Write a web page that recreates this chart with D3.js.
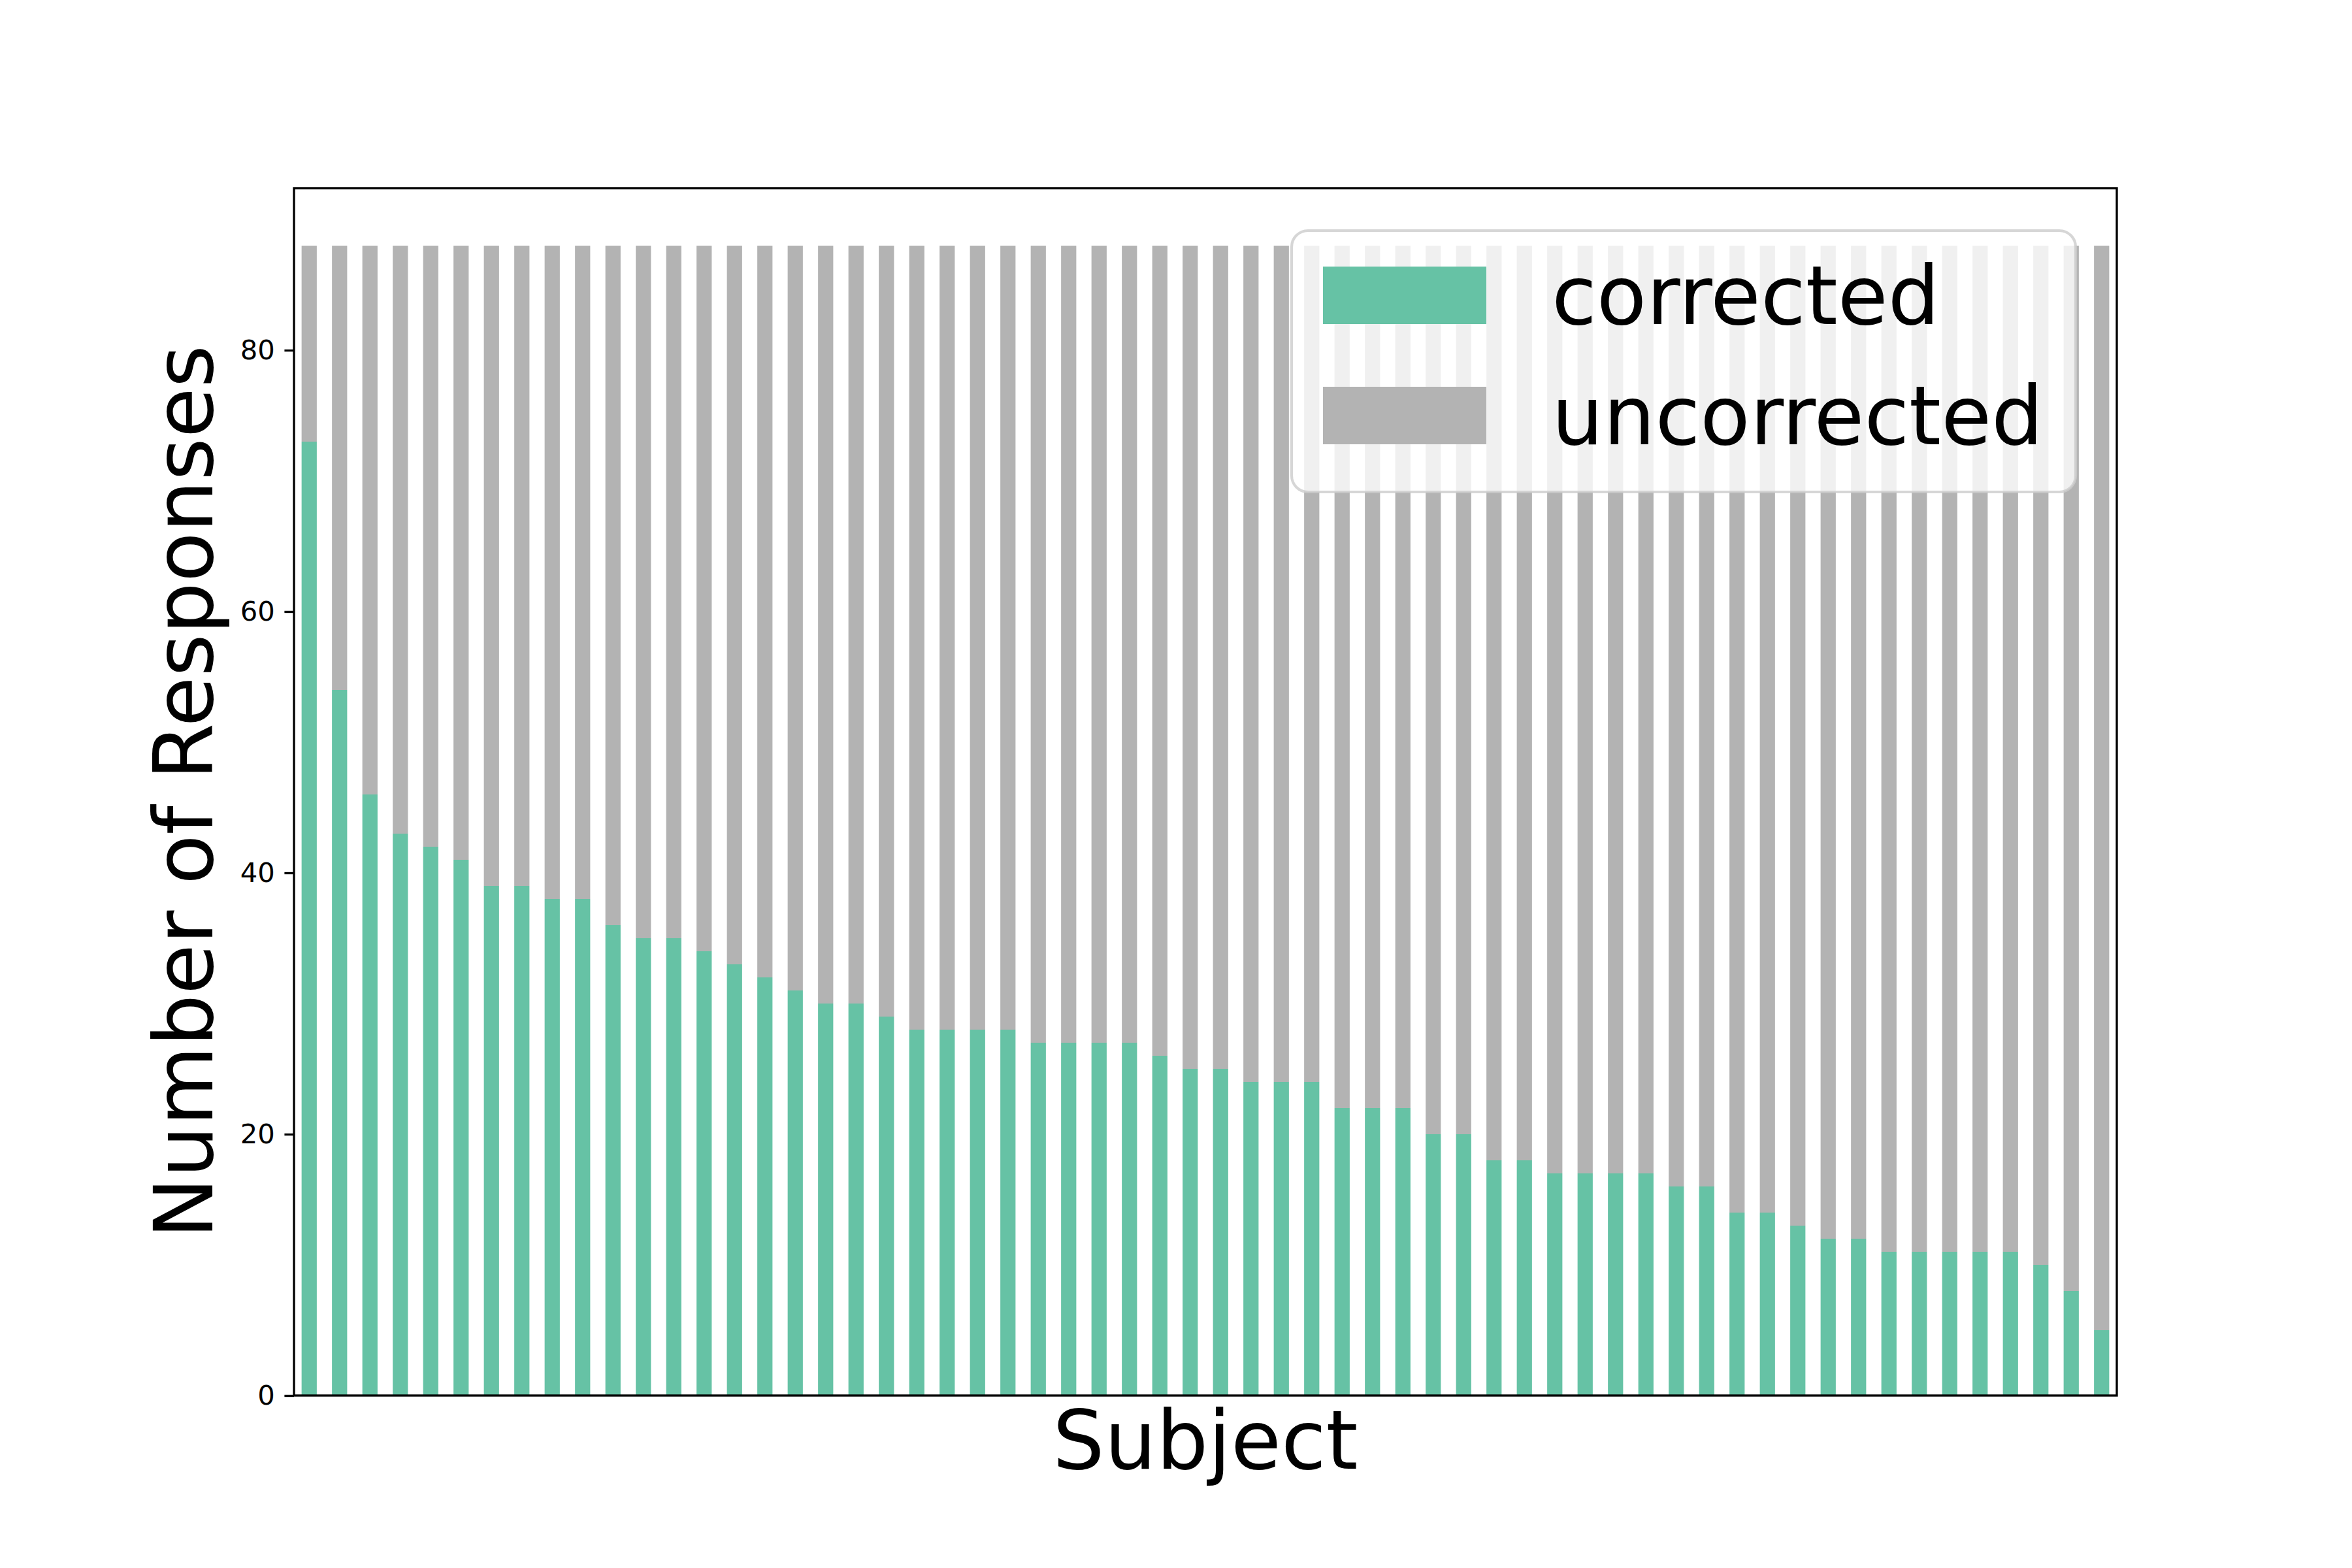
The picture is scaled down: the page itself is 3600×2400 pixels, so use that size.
<!DOCTYPE html>
<html lang="en">
<meta charset="UTF-8">
<title>Responses per subject</title>
<script src="https://d3js.org/d3.v7.min.js"></script>
<style>
  body { margin: 0; background: #fff; }
  text { font-family: "DejaVu Sans", sans-serif; }
</style>
<body>
<svg id="chart" width="3600" height="2400"></svg>
<script>
// data, one entry per subject (sorted by corrected)
var subjects = ["S01","S02","S03","S04","S05","S06","S07","S08","S09","S10",
                "S11","S12","S13","S14","S15","S16","S17","S18","S19","S20",
                "S21","S22","S23","S24","S25","S26","S27","S28","S29","S30",
                "S31","S32","S33","S34","S35","S36","S37","S38","S39","S40",
                "S41","S42","S43","S44","S45","S46","S47","S48","S49","S50",
                "S51","S52","S53","S54","S55","S56","S57","S58","S59","S60"];
var corrected = [73,54,46,43,42,41,39,39,38,38,36,35,35,34,33,32,31,30,30,29,
                 28,28,28,28,27,27,27,27,26,25,25,24,24,24,22,22,22,20,20,18,
                 18,17,17,17,17,16,16,14,14,13,12,12,11,11,11,11,11,10,8,5];
var uncorrected = [15,34,42,45,46,47,49,49,50,50,52,53,53,54,55,56,57,58,58,59,
                   60,60,60,60,61,61,61,61,62,63,63,64,64,64,66,66,66,68,68,70,
                   70,71,71,71,71,72,72,74,74,75,76,76,77,77,77,77,77,78,80,83];
var seriesNames = ["corrected", "uncorrected"];
var colors = ["#66c2a5", "#b3b3b3"];
var yTicks = [0, 20, 40, 60, 80];

var svg = d3.select("#chart");
// axes box in pixels (matplotlib default subplot margins)
var pLeft = 450, pRight = 3240, pTop = 288, pBottom = 2136;

var rows = subjects.map(function(s, i) {
  return {subject: s, corrected: corrected[i], uncorrected: uncorrected[i]};
});
var stack = d3.stack().keys(seriesNames)(rows);

var x = d3.scaleBand().domain(subjects).range([pLeft, pRight])
    .paddingInner(0.5).paddingOuter(0.25);
var maxTotal = d3.max(rows, function(d) { return d.corrected + d.uncorrected; });
var y = d3.scaleLinear().domain([0, maxTotal * 1.05]).range([pBottom, pTop]);

// bars
svg.append("g").selectAll("g")
  .data(stack)
  .enter().append("g")
    .attr("fill", function(d, i) { return colors[i]; })
  .selectAll("rect")
  .data(function(d) { return d; })
  .enter().append("rect")
    .attr("x", function(d) { return x(d.data.subject); })
    .attr("width", x.bandwidth())
    .attr("y", function(d) { return y(d[1]); })
    .attr("height", function(d) { return y(d[0]) - y(d[1]); });

// y axis (matplotlib look)
var yAxis = svg.append("g")
  .attr("transform", "translate(" + pLeft + ",0)")
  .call(d3.axisLeft(y).tickValues(yTicks).tickSize(14.6).tickPadding(14.6));
yAxis.select(".domain").remove();
yAxis.selectAll(".tick line").attr("stroke", "#000").attr("stroke-width", 3.33);
yAxis.selectAll(".tick text")
  .attr("fill", "#000")
  .style("font-size", "41.7px")
  .style("font-family", "DejaVu Sans");

// frame
svg.append("rect")
  .attr("x", pLeft).attr("y", pTop)
  .attr("width", pRight - pLeft).attr("height", pBottom - pTop)
  .attr("fill", "none").attr("stroke", "#000").attr("stroke-width", 3.33);

// axis labels
svg.append("text")
  .attr("x", (pLeft + pRight) / 2).attr("y", 2248)
  .attr("text-anchor", "middle")
  .style("font-size", "125px")
  .text("Subject");

svg.append("text")
  .attr("transform", "translate(325," + (pTop + pBottom) / 2 + ") rotate(-90)")
  .attr("text-anchor", "middle")
  .style("font-size", "125px")
  .text("Number of Responses");

// legend
var lg = svg.append("g");
lg.append("rect")
  .attr("x", 1977).attr("y", 353)
  .attr("width", 1200).attr("height", 400)
  .attr("rx", 25).attr("ry", 25)
  .attr("fill", "#fff").attr("fill-opacity", 0.8)
  .attr("stroke", "#ccc").attr("stroke-opacity", 0.8)
  .attr("stroke-width", 4.17);

var item = lg.selectAll(".item")
  .data(seriesNames)
  .enter().append("g")
    .attr("transform", function(d, i) { return "translate(2025," + (408 + i * 184) + ")"; });
item.append("rect")
  .attr("width", 250).attr("height", 88)
  .attr("fill", function(d, i) { return colors[i]; });
item.append("text")
  .attr("x", 350).attr("y", 88)
  .style("font-size", "125px")
  .text(function(d) { return d; });
</script>
</body>
</html>
